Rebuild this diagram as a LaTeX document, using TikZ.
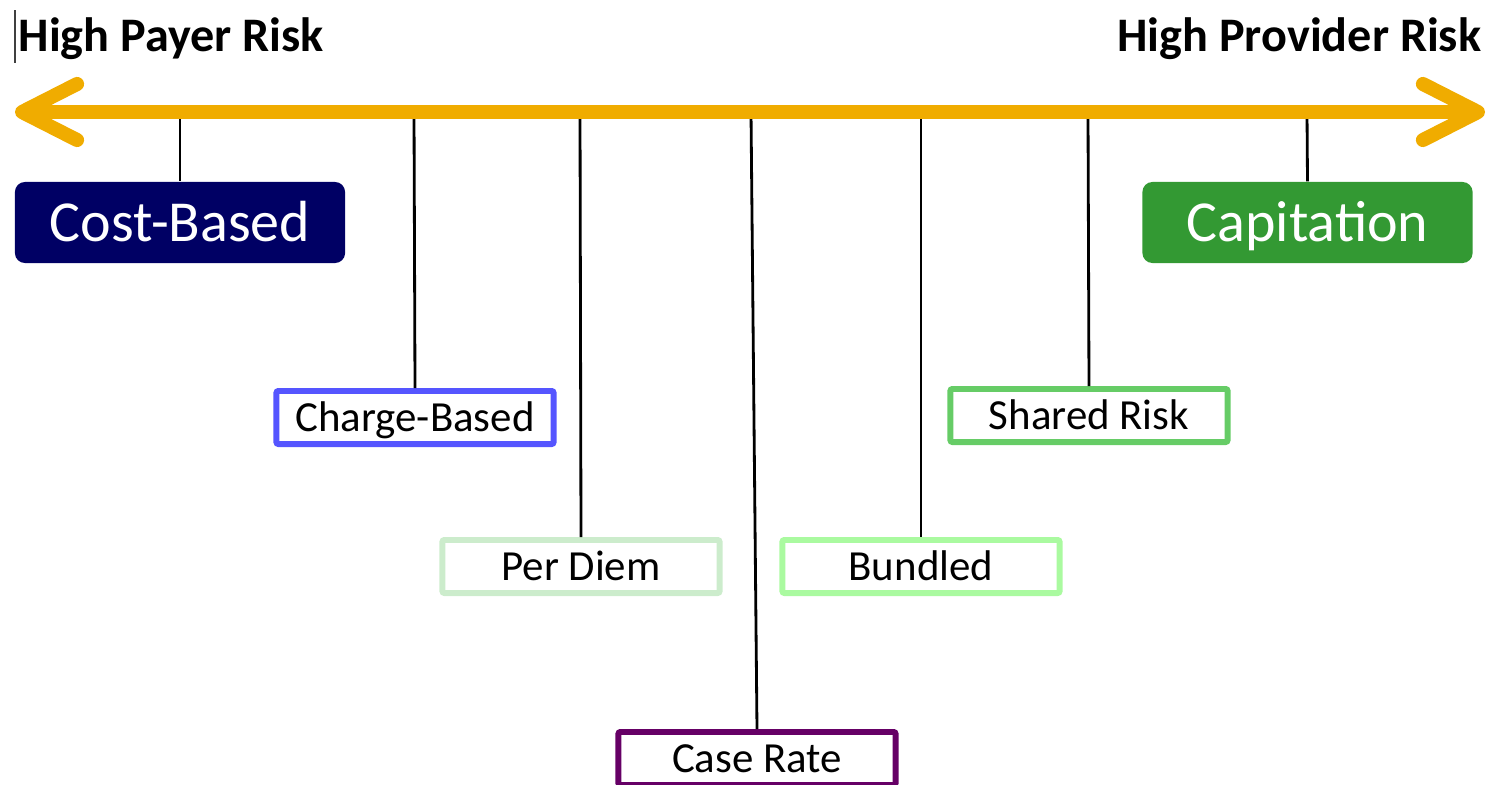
\documentclass[tikz,border=0pt]{standalone}
\usepackage{fontspec}
\setmainfont{Carlito}
\usetikzlibrary{arrows.meta}

\definecolor{riskorange}{RGB}{240,172,0}
\definecolor{costnavy}{RGB}{0,0,100}
\definecolor{capgreen}{RGB}{51,153,51}
\definecolor{chargeblue}{RGB}{85,85,255}
\definecolor{diemgreen}{RGB}{204,236,204}
\definecolor{caseplum}{RGB}{102,0,102}
\definecolor{bundlegreen}{RGB}{170,250,160}
\definecolor{sharedgreen}{RGB}{102,204,102}

\begin{document}
\begin{tikzpicture}[x=0.01cm,y=-0.01cm,
    bigbox/.style={rounded corners=0.1cm, minimum width=3.3cm, minimum height=0.81cm,
      inner sep=0pt, text=white, text height=10.6pt, text depth=0pt,
      font=\fontsize{16.5}{18}\selectfont},
    smallbox/.style={draw, line width=1.7pt, rounded corners=0.02cm, minimum width=2.77cm,
      minimum height=0.53cm, inner sep=0pt, text height=7.9pt, text depth=0pt,
      font=\fontsize{12.2}{14}\selectfont},
    header/.style={inner sep=0pt, font=\fontsize{13.7}{15}\selectfont\bfseries},
    stem/.style={line width=0.8pt}]
  \useasboundingbox (0,0) rectangle (1493,784);

  \draw[black!75, line width=0.5pt] (15,10) -- (15,63);
  \node[header, anchor=base west] (payer) at (18,51) {High Payer Risk};
  \node[header, anchor=base east] (provider) at (1482,51) {High Provider Risk};

  \node[bigbox, fill=costnavy] (cost) at (180,222.5) {Cost-Based};
  \node[bigbox, fill=capgreen] (cap) at (1307.5,222.5) {Capitation};

  \foreach \name/\x/\y/\col/\txt in {charge/415/417.5/chargeblue/Charge-Based,
      diem/581/566.5/diemgreen/Per Diem, case/757/758.5/caseplum/Case Rate,
      bundled/921/566.5/bundlegreen/Bundled, shared/1089/415.5/sharedgreen/Shared Risk}
    \node[smallbox, draw=\col] (\name) at (\x,\y) {\txt};

  \foreach \name/\x in {cost/180, charge/414, diem/580, case/751, bundled/921,
      shared/1088, cap/1307} {
    \coordinate (on-\name) at (\x,112);
    \draw[stem] (on-\name) -- (\name.north);
  }

  \coordinate (leftend) at (15,112);
  \coordinate (rightend) at (1485,112);
  \draw[riskorange, line width=4pt,
    {Straight Barb[length=0.55cm,width=0.56cm,round]}-{Straight Barb[length=0.55cm,width=0.56cm,round]}]
    (leftend) -- (rightend);
\end{tikzpicture}
\end{document}
